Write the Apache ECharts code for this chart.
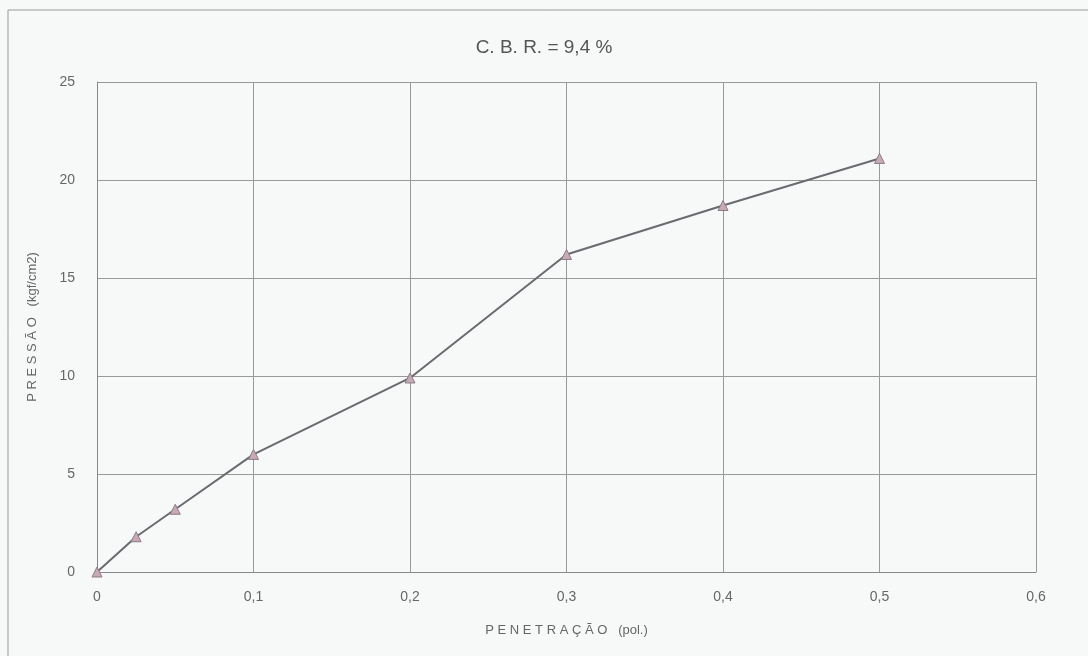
<!DOCTYPE html>
<html>
<head>
<meta charset="utf-8">
<script src="https://cdn.jsdelivr.net/npm/echarts@6/dist/echarts.min.js"></script>
<style>
    html, body { margin: 0; padding: 0; background: #f7f8f8; }
    #chart { width: 1088px; height: 656px; }
</style>
</head>
<body>
<div id="chart"></div>
<script>
    // penetração (pol.) x pressão (kgf/cm2)
    var penetracao = [0, 0.025, 0.05, 0.1, 0.2, 0.3, 0.4, 0.5];
    var pressao = [0, 1.8, 3.2, 6.0, 9.9, 16.2, 18.7, 21.1];
    var xTicks = [0, 0.1, 0.2, 0.3, 0.4, 0.5, 0.6];
    var yTicks = [0, 5, 10, 15, 20, 25];

    var pontos = [];
    for (var i = 0; i < penetracao.length; i++) {
        pontos.push([penetracao[i], pressao[i]]);
    }

    var chart = echarts.init(document.getElementById('chart'));
    chart.setOption({
        backgroundColor: '#f7f8f8',
        animation: false,
        title: {
            text: 'C. B. R. = 9,4 %',
            left: 'center',
            top: 33,
            textStyle: { fontFamily: 'Liberation Sans', fontSize: 19, fontWeight: 'normal', color: '#555' }
        },
        grid: { left: 97, right: 52, top: 82, bottom: 84 },
        graphic: [{
            type: 'rect',
            shape: { x: 8, y: 10, width: 1100, height: 700 },
            style: { fill: 'none', stroke: '#999', lineWidth: 1 },
            silent: true
        }],
        xAxis: {
            type: 'value',
            min: xTicks[0],
            max: xTicks[xTicks.length - 1],
            interval: 0.1,
            name: 'P E N E T R A Ç Ã O   (pol.)',
            nameLocation: 'middle',
            nameGap: 52,
            nameTextStyle: { fontFamily: 'Liberation Sans', fontSize: 13, color: '#666' },
            axisLine: { lineStyle: { color: '#888' } },
            axisTick: { show: false },
            axisLabel: {
                fontFamily: 'Liberation Sans', fontSize: 14, color: '#666', margin: 18,
                formatter: function (v) { return String(Math.round(v * 10) / 10).replace('.', ','); }
            },
            splitLine: { lineStyle: { color: '#999', width: 1 } }
        },
        yAxis: {
            type: 'value',
            min: yTicks[0],
            max: yTicks[yTicks.length - 1],
            interval: 5,
            name: 'P R E S S Ã O   (kgf/cm2)',
            nameLocation: 'middle',
            nameGap: 58,
            nameTextStyle: { fontFamily: 'Liberation Sans', fontSize: 13, color: '#666' },
            axisLine: { show: true, lineStyle: { color: '#888' } },
            axisTick: { show: false },
            axisLabel: { fontFamily: 'Liberation Sans', fontSize: 14, color: '#666', margin: 22 },
            splitLine: { lineStyle: { color: '#999', width: 1 } }
        },
        series: [{
            name: 'CBR',
            type: 'line',
            data: pontos,
            symbol: 'triangle',
            symbolSize: 10,
            lineStyle: { color: '#6a6a70', width: 2 },
            itemStyle: { color: '#c9a9b3', borderColor: '#8a7c88', borderWidth: 1 }
        }]
    });
</script>
</body>
</html>
